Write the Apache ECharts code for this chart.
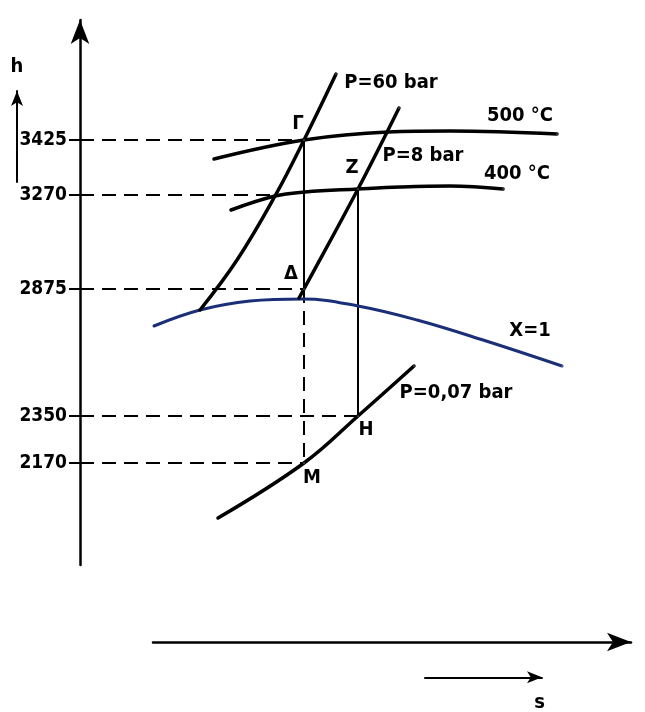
<!DOCTYPE html>
<html><head><meta charset="utf-8">
<script src="https://cdn.jsdelivr.net/npm/echarts@6/dist/echarts.min.js"></script>
<style>html,body{margin:0;padding:0;background:#fff}#c{width:645px;height:712px}</style>
</head><body><div id="c"></div>
<script>
// Sketch coordinates of the h–s (Mollier) diagram: s = entropy (arbitrary sketch units),
// vertical = position of h on the sketch (arbitrary sketch units; the sketch is not to scale).
const hTickLabels = ['3425', '3270', '2875', '2350', '2170'];
const hTickPos    = [425, 370, 276, 149, 102];
const dashEndS    = [224, 195, 224, 278, 224];

const satX1     = [[74,239],[120,255],[170,264],[223,266],[278,259],[337,245],[403,225],[482,199]];
const isobar60  = [[120,255],[157,305],[195,369],[224,425],[256,491]];
const isobar8   = [[219,267],[224,276],[278,376],[319,457]];
const iso500    = [[134,406],[224,425],[308,433],[370,434],[477,431]];
const iso400    = [[151,355],[195,369],[225,373],[278,376],[320,378],[370,379],[423,376]];
const isobar007 = [[138,47],[224,102],[278,149],[334,199]];

const pointNames = ['Γ', 'Δ', 'M', 'Z', 'H'];
const pointS     = [224, 224, 224, 278, 278];
const pointH     = [425, 276, 102, 376, 149];

const curveNames = ['P=60 bar', 'P=8 bar', '500 °C', '400 °C', 'X=1', 'P=0,07 bar'];

const FONT = '"DejaVu Sans Condensed", "DejaVu Sans", sans-serif';
const pt = n => [pointS[pointNames.indexOf(n)], pointH[pointNames.indexOf(n)]];
const last = a => a[a.length - 1];

function curve(name, data, color, width) {
  return { type: 'line', name, data, xAxisIndex: 0, yAxisIndex: 0, smooth: 0.4,
    showSymbol: false, symbol: 'none', silent: true,
    lineStyle: { color, width, cap: 'round' }, z: 3 };
}
function seg(data, dashed, width) {
  return { type: 'line', data, xAxisIndex: 0, yAxisIndex: 0, showSymbol: false, symbol: 'none',
    silent: true, lineStyle: { color: '#000', width, type: dashed ? [14, 8] : 'solid' }, z: 2 };
}

const series = [];
series.push(curve('X=1', satX1, '#1b2f78', 3));
series.push(curve('P=60 bar', isobar60, '#000', 3.5));
series.push(curve('P=8 bar', isobar8, '#000', 3.5));
series.push(curve('500 °C', iso500, '#000', 3.5));
series.push(curve('400 °C', iso400, '#000', 3.5));
series.push(curve('P=0,07 bar', isobar007, '#000', 3.5));

hTickPos.forEach((h, i) => series.push(seg([[0, h], [dashEndS[i], h]], true, 2)));
series.push(seg([pt('Γ'), pt('Δ')], false, 2));
series.push(seg([pt('Δ'), pt('M')], true, 2));
series.push(seg([pt('Z'), pt('H')], false, 2));

const curveAnchors = [last(isobar60), last(isobar8), last(iso500), last(iso400), last(satX1), last(isobar007)];
const curveOffsets = [[55, 9], [24, 48], [-37, -18], [14, -15], [-32, -35], [42, 27]];
const pointOffsets = { 'Γ': [-6, -16], 'Δ': [-13, -15], 'M': [8, 15], 'Z': [-6, -21], 'H': [8, 14] };

const lblStyle = { show: true, position: 'inside', color: '#000', opacity: 1, fontFamily: FONT,
  fontWeight: 'bold', fontSize: 20, textBorderWidth: 0 };
const labelData = [];
curveNames.forEach((n, i) => labelData.push({ value: curveAnchors[i],
  label: Object.assign({}, lblStyle, { formatter: n, offset: curveOffsets[i] }) }));
pointNames.forEach((n, i) => labelData.push({ value: [pointS[i], pointH[i]],
  label: Object.assign({}, lblStyle, { formatter: n, offset: pointOffsets[n] }) }));
series.push({ type: 'scatter', data: labelData, xAxisIndex: 0, yAxisIndex: 0, symbolSize: 1,
  itemStyle: { color: '#fff', opacity: 1 }, silent: true, z: 5 });

const chart = echarts.init(document.getElementById('c'), null, { renderer: 'canvas' });
chart.setOption({
  animation: false,
  backgroundColor: '#fff',
  grid: [
    { left: 80, top: 20, width: 565, height: 545 },
    { left: 153, top: 641, width: 478, height: 1 },
    { left: 425, top: 677, width: 117, height: 1 },
    { left: 17, top: 91, width: 1, height: 91 }
  ],
  xAxis: [
    { gridIndex: 0, type: 'value', min: 0, max: 565, show: false },
    { gridIndex: 1, type: 'value', min: 0, max: 1,
      axisLine: { show: true, onZero: false, symbol: ['none', 'arrow'], symbolSize: [14, 24],
        lineStyle: { color: '#000', width: 2.5 } },
      axisTick: { show: false }, axisLabel: { show: false }, splitLine: { show: false } },
    { gridIndex: 2, type: 'value', min: 0, max: 1,
      axisLine: { show: true, onZero: false, symbol: ['none', 'arrow'], symbolSize: [9, 15],
        lineStyle: { color: '#000', width: 2 } },
      axisTick: { show: false }, axisLabel: { show: false }, splitLine: { show: false },
      name: 's', nameLocation: 'middle', nameGap: 16,
      nameTextStyle: { fontFamily: FONT, fontWeight: 'bold', fontSize: 20, color: '#000', padding: [0, 0, 0, 112] } },
    { gridIndex: 3, type: 'value', min: 0, max: 1, show: false }
  ],
  yAxis: [
    { gridIndex: 0, type: 'value', min: 0, max: 545,
      axisLine: { show: true, onZero: false, symbol: ['none', 'arrow'], symbolSize: [14, 24],
        lineStyle: { color: '#000', width: 2.5 } },
      axisTick: { show: true, customValues: hTickPos, length: 11, lineStyle: { color: '#000', width: 2 } },
      axisLabel: { show: true, customValues: hTickPos, margin: 13, color: '#000', fontFamily: FONT,
        fontWeight: 'bold', fontSize: 19,
        formatter: v => hTickLabels[hTickPos.indexOf(v)] },
      splitLine: { show: false } },
    { gridIndex: 1, type: 'value', min: 0, max: 1, show: false },
    { gridIndex: 2, type: 'value', min: 0, max: 1, show: false },
    { gridIndex: 3, type: 'value', min: 0, max: 1,
      axisLine: { show: true, onZero: false, symbol: ['none', 'arrow'], symbolSize: [9, 15],
        lineStyle: { color: '#000', width: 2 } },
      axisTick: { show: false }, axisLabel: { show: false }, splitLine: { show: false },
      name: 'h', nameLocation: 'end', nameGap: 14,
      nameTextStyle: { fontFamily: FONT, fontWeight: 'bold', fontSize: 20, color: '#000' } }
  ],
  series
});
</script></body></html>
